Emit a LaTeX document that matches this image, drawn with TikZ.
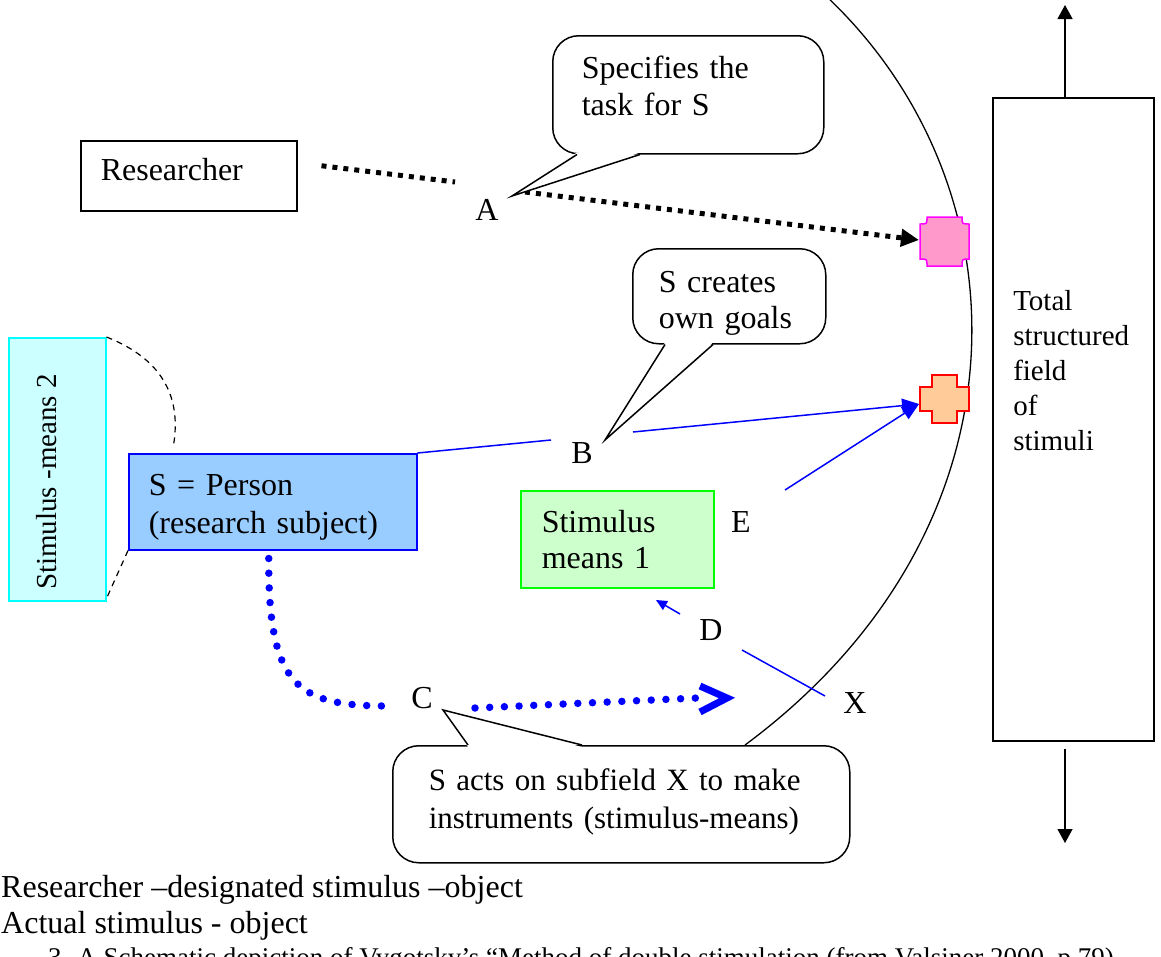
\documentclass[tikz,border=0pt]{standalone}
\usepackage{fontspec}
\setmainfont{Liberation Serif}
\usetikzlibrary{arrows.meta}

\definecolor{pinkfill}{HTML}{FF99CC}
\definecolor{crossfill}{HTML}{FFCC99}
\definecolor{personfill}{HTML}{99CCFF}
\definecolor{meansonefill}{HTML}{CCFFCC}
\definecolor{meanstwofill}{HTML}{CCFFFF}
\definecolor{pureblue}{HTML}{0000FF}
\definecolor{puregreen}{HTML}{00FF00}
\definecolor{purecyan}{HTML}{00FFFF}
\definecolor{puremagenta}{HTML}{FF00FF}

\tikzset{
  bigfont/.style={font=\fontsize{32}{37}\selectfont},
  boxed/.style={draw, line width=1.5pt, align=left, inner ysep=0pt,
    text height=22pt, text depth=7pt, bigfont, anchor=north west},
  bubble/.style={boxed, fill=white, rounded corners=26pt},
  letter/.style={bigfont, inner sep=2pt},
  blackdots/.style={line width=5pt, dash pattern=on 5pt off 6pt},
  bluedots/.style={pureblue, line width=7.5pt, dash pattern=on 0pt off 14.7pt, line cap=round},
  blueline/.style={pureblue, line width=1.5pt},
  dashedlink/.style={line width=1.2pt, dash pattern=on 6pt off 5pt}
}

\begin{document}
\begin{tikzpicture}[x=1pt,y=-1pt]
\useasboundingbox (0,0) rectangle (1161,956);
\clip (0,0) rectangle (1161,956);

% --- field of stimuli (big curve) ---
\draw[line width=1.3pt] (826,-4) .. controls (1030,188) and (1035,530) .. (745,745);

% --- Researcher ---
\node[boxed, minimum height=70pt, text width=176pt, inner xsep=20pt, text depth=12pt] (researcher) at (80,140) {Researcher};

% --- Total structured field ---
\node[boxed, font=\fontsize{29}{35}\selectfont, minimum height=643pt, text width=120pt, inner xsep=20.5pt, text depth=239pt] (field) at (992,97)
  {Total\\structured\\field\\of\\stimuli};
\coordinate (fieldtop) at (1065,5);
\coordinate (fieldbottom) at (1065,843);
\draw[line width=1.3pt, -{Triangle[length=14pt,width=15pt]}] (fieldtop |- field.north) -- (fieldtop);
\draw[line width=1.3pt, -{Triangle[length=14pt,width=15pt]}] ([yshift=-7pt]fieldbottom |- field.south) -- (fieldbottom);

% --- designated object (pink) and actual object (cross) ---
\filldraw[draw=puremagenta, fill=pinkfill, line width=1.5pt]
  (927,217) -- (962,217) .. controls (962,224) .. (969,224) -- (969,259)
  .. controls (962,259) .. (962,266) -- (927,266) .. controls (927,259) .. (920,259)
  -- (920,224) .. controls (927,224) .. (927,217) -- cycle;
\coordinate (designated) at (919,240);
\filldraw[draw=red, fill=crossfill, line width=1.5pt]
  (932,375) -- (957,375) -- (957,387) -- (969,387) -- (969,411) -- (957,411)
  -- (957,423) -- (932,423) -- (932,411) -- (920,411) -- (920,387) -- (932,387) -- cycle;
\coordinate (actual) at (919,404);

% --- letters ---
\node[letter] (a) at (487,210) {A};
\node[letter] (b) at (582,453) {B};
\node[letter] (c) at (422,698) {C};
\node[letter] (d) at (711,630) {D};
\node[letter] (e) at (741,522) {E};
\node[letter] (x) at (855,703) {X};

% --- path A ---
\coordinate (aleft) at (455,182);
\coordinate (aright) at (525,192);
\draw[blackdots] ([xshift=24pt,yshift=10pt]researcher.east) -- (aleft);
\draw[blackdots, -{Triangle[length=18pt,width=17pt]}] (aright) -- (designated);

% --- callout A ---
\node[bubble, minimum height=118pt, text width=213pt, inner xsep=29pt, text depth=54pt] (task) at (552,35)
  {Specifies the\\task for S};
\coordinate (tasktip) at (512,196);
\fill[white] ([xshift=25pt,yshift=2pt]task.south west) -- (tasktip) -- ([xshift=88pt,yshift=2pt]task.south west) -- cycle;
\draw[line width=1.5pt] ([xshift=25pt]task.south west) -- (tasktip) -- ([xshift=88pt]task.south west);

% --- Stimulus-means 2 ---
\node[draw=purecyan, fill=meanstwofill, line width=1.5pt, minimum width=97pt, minimum height=263pt, anchor=north west] (meanstwo) at (8,337) {};
\node[font=\fontsize{29}{35}\selectfont, rotate=90] (meanstwotext) at (47,482) {Stimulus -means 2};

% --- S = Person ---
\node[boxed, draw=pureblue, fill=personfill, minimum height=96pt, text width=248pt, inner xsep=20pt, text depth=34pt, font=\fontsize{32}{38}\selectfont] (person) at (128,453)
  {S = Person\\(research subject)};
\draw[dashedlink] (meanstwo.north east) .. controls (165,360) and (182,400) .. ([xshift=45pt,yshift=5pt]person.north west);
\draw[dashedlink] (person.south west) -- ([yshift=3pt]meanstwo.south east);

% --- Stimulus means 1 ---
\node[boxed, draw=puregreen, fill=meansonefill, minimum height=97pt, text width=151pt, inner xsep=21pt, text depth=35pt, font=\fontsize{32}{36}\selectfont] (meansone) at (520,490)
  {Stimulus\\means 1};

% --- path B and E ---
\coordinate (bleft) at (551,440);
\coordinate (bright) at (633,432);
\draw[blueline] (person.north east) -- (bleft);
\draw[blueline, -{Triangle[length=17pt,width=14pt]}] (bright) -- (actual);
\coordinate (estart) at (785,490);
\draw[blueline, -{Triangle[length=17pt,width=14pt]}] (estart) -- (actual);

% --- callout B ---
\node[bubble, minimum height=95pt, text width=141pt, inner xsep=26pt, text depth=29pt, font=\fontsize{32}{36}\selectfont] (goals) at (632,248)
  {S creates\\own goals};
\coordinate (goalstip) at (605,440);
\fill[white] ([xshift=33pt,yshift=2pt]goals.south west) -- (goalstip) -- ([xshift=81pt,yshift=2pt]goals.south west) -- cycle;
\draw[line width=1.5pt] ([xshift=33pt]goals.south west) -- (goalstip) -- ([xshift=81pt]goals.south west);

% --- path D ---
\coordinate (dstart) at (680,614);
\coordinate (dend) at (656,600);
\draw[blueline, -{Triangle[length=11pt,width=10pt]}] (dstart) -- (dend);
\coordinate (dlow) at (742,650);
\coordinate (xend) at (825,696);
\draw[blueline] (dlow) -- (xend);

% --- path C ---
\coordinate (cleft) at (390,706);
\coordinate (cright) at (475,708);
\coordinate (cend) at (727,698);
\draw[bluedots] ([xshift=-4pt,yshift=-8pt]person.south) .. controls (268,690) and (300,706) .. (cleft);
\draw[bluedots] (cright) -- ([xshift=-30pt]cend);
\draw[pureblue, line width=7pt] ([xshift=-27pt,yshift=12pt]cend) -- (cend) -- ([xshift=-27pt,yshift=-14pt]cend);

% --- callout C ---
\node[bubble, minimum height=117pt, text width=385pt, inner xsep=36pt, text depth=49pt, font=\fontsize{31}{38}\selectfont] (acts) at (392,745)
  {S acts on subfield X to make\\instruments (stimulus-means)};
\coordinate (actstip) at (443,710);
\fill[white] ([xshift=76pt,yshift=-2pt]acts.north west) -- (actstip) -- ([xshift=190pt,yshift=-2pt]acts.north west) -- cycle;
\draw[line width=1.5pt] ([xshift=76pt]acts.north west) -- (actstip) -- ([xshift=190pt]acts.north west);

% --- legend and caption ---
\node[bigfont, anchor=base west, inner sep=0pt] (legendone) at (1,897) {Researcher --designated stimulus --object};
\node[bigfont, anchor=base west, inner sep=0pt] (legendtwo) at (1,933) {Actual stimulus - object};
\node[font=\fontsize{27}{32}\selectfont, anchor=base west, inner sep=0pt] (caption) at (48,966) {3. A Schematic depiction of Vygotsky's “Method of double stimulation (from Valsiner 2000, p.79)};

\end{tikzpicture}
\end{document}
